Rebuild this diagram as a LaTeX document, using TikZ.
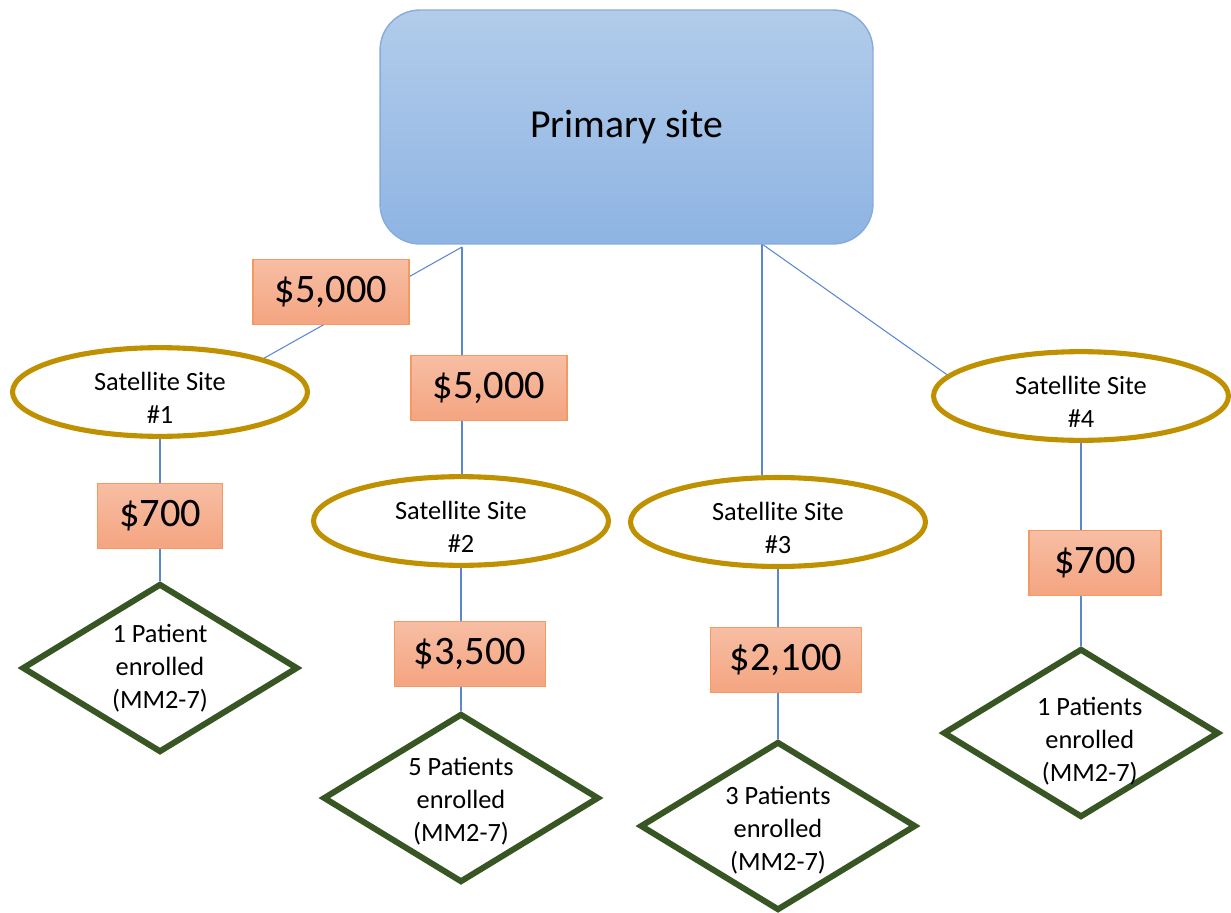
\documentclass[tikz,border=0pt]{standalone}
\usepackage{fontspec}
\setmainfont{Carlito}
\usetikzlibrary{shapes.geometric,backgrounds}

\definecolor{primtop}{HTML}{B2CCEA}
\definecolor{primbot}{HTML}{8EB4E3}
\definecolor{primline}{HTML}{86ACDD}
\definecolor{costtop}{HTML}{F7BEA4}
\definecolor{costbot}{HTML}{F4A480}
\definecolor{costline}{HTML}{F39A62}
\definecolor{satgold}{HTML}{BF9000}
\definecolor{patgreen}{HTML}{375623}
\definecolor{linkblue}{HTML}{5B87D2}

% strut that pushes a label down inside its shape
\newcommand{\dropby}[1]{\rule{0pt}{#1}}

\begin{document}
\begin{tikzpicture}[x=0.02cm,y=-0.02cm,
    primary/.style={draw=primline,line width=0.8pt,rounded corners=0.8cm,
        top color=primtop,bottom color=primbot,minimum width=9.86cm,
        minimum height=4.68cm,font=\fontsize{22.6}{27}\selectfont},
    cost/.style={draw=costline,line width=0.8pt,top color=costtop,
        bottom color=costbot,minimum height=1.3cm,inner sep=0pt,
        font=\fontsize{23}{27}\selectfont},
    sat/.style={ellipse,draw=satgold,line width=2.9pt,fill=white,
        minimum width=5.9cm,minimum height=1.72cm,inner sep=0pt,align=center,
        font=\fontsize{15}{18.7}\selectfont},
    patients/.style={diamond,draw=patgreen,line width=3.4pt,fill=white,
        minimum width=5.52cm,minimum height=3.38cm,inner sep=-12pt,align=center,
        font=\fontsize{15}{18.7}\selectfont},
    link/.style={draw=linkblue,line width=0.6pt}]
\useasboundingbox (0,0) rectangle (1231,913);

% top of the tree
\node[primary] (prim) at (626.5,127) {Primary site};
\coordinate (p1) at (462,247);
\coordinate (p2) at (762,244);

% satellite sites
\node[sat] (sat1) at (160,392) {\dropby{17pt}Satellite Site\\\#1};
\node[sat] (sat2) at (461,521) {\dropby{17pt}Satellite Site\\\#2};
\node[sat] (sat3) at (778,522) {\dropby{17pt}Satellite Site\\\#3};
\node[sat] (sat4) at (1081,396) {\dropby{17pt}Satellite Site\\\#4};

% payments
\node[cost,minimum width=3.12cm] (c1) at (331,292) {\$5,000};
\node[cost,minimum width=3.12cm] (c2) at (489,388) {\$5,000};
\node[cost,minimum width=2.5cm] (c3) at (160,516) {\$700};
\node[cost,minimum width=3.02cm] (c4) at (470,654) {\$3,500};
\node[cost,minimum width=3.02cm] (c5) at (786,660) {\$2,100};
\node[cost,minimum width=2.64cm] (c6) at (1095,563) {\$700};

% enrolled patients
\node[patients] (dia1) at (160,668) {1 Patient\\enrolled\\(MM2-7)};
\node[patients] (dia2) at (461,798) {\dropby{14pt}5 Patients\\enrolled\\(MM2-7)};
\node[patients] (dia3) at (778,826) {\dropby{15pt}3 Patients\\enrolled\\(MM2-7)};
\node[patients] (dia4) at (1081,733) {\dropby{20pt}\hspace{10pt}1 Patients\\\hspace{10pt}enrolled\\\hspace{10pt}(MM2-7)};

\begin{scope}[on background layer]
\draw[link] (p1) -- (sat1.18);
\draw[link] (p1) -- (p1 |- sat2.north);
\draw[link] (p2) -- (p2 |- sat3.north);
\draw[link] (p2) -- (sat4.171);
\foreach \i in {1,...,4}
    \draw[link] (sat\i.south) -- (dia\i.north);
\end{scope}
\end{tikzpicture}
\end{document}
